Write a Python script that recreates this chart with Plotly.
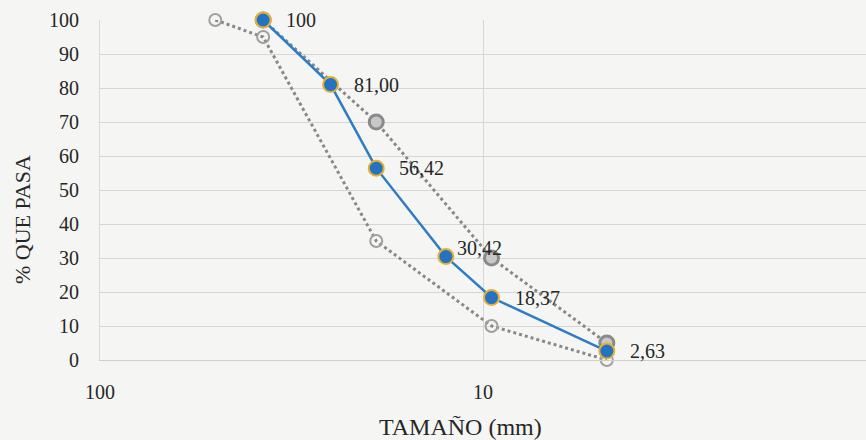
import math
import plotly.graph_objects as go

# Sieve openings (mm) and cumulative percent passing
tamano = [37.5, 25, 19, 12.5, 9.5, 4.75]
pasa = [100, 81.00, 56.42, 30.42, 18.37, 2.63]
etiquetas = ["100", "81,00", "56,42", "30,42", "18,37", "2,63"]

# Gradation band limits
lim_inf_tamano = [50, 37.5, 19, 9.5, 4.75]
lim_inf = [100, 95, 35, 10, 0]
lim_sup_tamano = [37.5, 19, 9.5, 4.75]
lim_sup = [100, 70, 30, 5]

y_ticks = [0, 10, 20, 30, 40, 50, 60, 70, 80, 90, 100]
x_ticks = [100, 10]
x_tick_text = ["100", "10"]

SERIF = "Liberation Serif, Times New Roman, serif"
TXT = "#262626"
BG = "#f5f5f3"

fig = go.Figure()

fig.add_trace(go.Scatter(
    x=lim_inf_tamano, y=lim_inf, mode="lines+markers", name="Límite inferior",
    line=dict(color="#888888", width=3, dash="dot"),
    marker=dict(symbol="circle-open", size=12, color="#a0a0a0", line=dict(width=2)),
    cliponaxis=False,
))
fig.add_trace(go.Scatter(
    x=lim_sup_tamano, y=lim_sup, mode="lines+markers", name="Límite superior",
    line=dict(color="#888888", width=3, dash="dot"),
    marker=dict(symbol="circle", size=14, color="#c8c8c8", line=dict(color="#8a8a8a", width=3)),
    cliponaxis=False,
))
fig.add_trace(go.Scatter(
    x=tamano, y=pasa, mode="lines+markers", name="Muestra",
    line=dict(color="#2e7cc6", width=2.5),
    marker=dict(symbol="circle", size=15, color="#2472c2", line=dict(color="#e6b035", width=2)),
    cliponaxis=False,
))

# Value labels beside each point
for xs, ys, t in zip(tamano, pasa, etiquetas):
    dx, dy = 21, 0
    if t == "30,42":
        dx, dy = 9, 9
    fig.add_annotation(
        x=math.log10(xs), y=ys, text=t, showarrow=False,
        xanchor="left", yanchor="middle", xshift=dx, yshift=dy,
        font=dict(family=SERIF, size=20, color=TXT),
    )

# Axis titles
fig.add_annotation(
    xref="paper", yref="paper", x=(460 - 100) / 766, y=-(427 - 360) / 340,
    text="TAMAÑO (mm)", showarrow=False, xanchor="center", yanchor="middle",
    font=dict(family=SERIF, size=24, color=TXT),
)
fig.add_annotation(
    xref="paper", yref="paper", x=-(100 - 22) / 766, y=(360 - 220) / 340,
    text="% QUE PASA", showarrow=False, textangle=-90, xanchor="center", yanchor="middle",
    font=dict(family=SERIF, size=22, color=TXT),
)

fig.update_layout(
    width=866, height=440,
    margin=dict(l=100, r=0, t=20, b=80),
    paper_bgcolor=BG, plot_bgcolor=BG,
    showlegend=False,
    font=dict(family=SERIF, size=20, color=TXT),
)
fig.update_xaxes(
    type="log", range=[2, 0], tickvals=x_ticks, ticktext=x_tick_text,
    showgrid=True, gridcolor="#d6d6d6", gridwidth=1,
    showline=True, linecolor="#cfcfcf", zeroline=False,
    ticks="", ticklabelstandoff=14,
    tickfont=dict(family=SERIF, size=20, color=TXT),
)
fig.update_yaxes(
    range=[0, 100], tickvals=y_ticks,
    showgrid=True, gridcolor="#d6d6d6", gridwidth=1,
    showline=True, linecolor="#dadada", zeroline=False,
    ticks="", ticklabelstandoff=16,
    tickfont=dict(family=SERIF, size=20, color=TXT),
)

fig.write_html("out.html")
